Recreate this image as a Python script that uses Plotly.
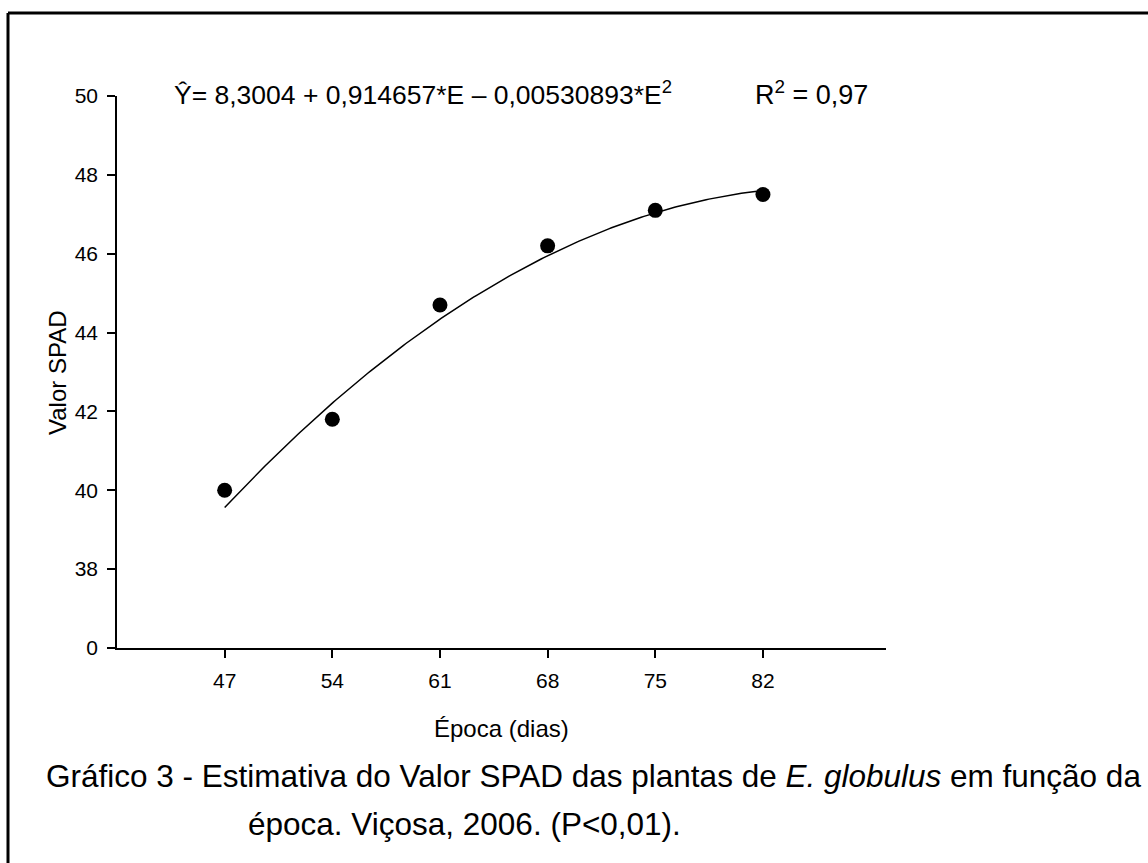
import numpy as np
import plotly.graph_objects as go

# Data
epoca = [47, 54, 61, 68, 75, 82]
spad = [40.0, 41.8, 44.7, 46.2, 47.1, 47.5]
coef = [8.3004, 0.914657, -0.00530893]   # Y = b0 + b1*E + b2*E^2
x_ticks = [47, 54, 61, 68, 75, 82]
y_tickvals = [36, 38, 40, 42, 44, 46, 48, 50]
y_ticktext = ["0", "38", "40", "42", "44", "46", "48", "50"]

W, H = 1148, 863
L, R, T, B = 117, 886, 96, 648
def px(x):
    return (x - L) / (R - L)
def py(y):
    return (B - y) / (B - T)

FONT = "Arial, Liberation Sans, sans-serif"

e_fit = np.linspace(min(epoca), max(epoca), 200)
y_fit = coef[0] + coef[1] * e_fit + coef[2] * e_fit ** 2

fig = go.Figure()
fig.add_trace(go.Scatter(x=e_fit, y=y_fit, mode="lines",
                         line=dict(color="black", width=1.5),
                         hoverinfo="skip", showlegend=False))
fig.add_trace(go.Scatter(x=epoca, y=spad, mode="markers",
                         marker=dict(color="black", size=15),
                         showlegend=False))

fig.update_layout(
    width=W, height=H,
    margin=dict(l=L, r=W - R, t=T, b=H - B, pad=0),
    paper_bgcolor="white", plot_bgcolor="white",
    font=dict(family=FONT, color="black", size=21),
    xaxis=dict(range=[40, 90], tickvals=x_ticks, showline=True, linecolor="black",
               linewidth=1.5, ticks="outside", ticklen=8, tickwidth=1.5,
               tickcolor="black", showgrid=False, zeroline=False,
               ticklabelstandoff=5, tickfont=dict(size=21)),
    yaxis=dict(range=[36, 50], tickvals=y_tickvals, ticktext=y_ticktext,
               showline=True, linecolor="black", linewidth=1.5, ticks="outside",
               ticklen=8, tickwidth=1.5, tickcolor="black", showgrid=False,
               zeroline=False, ticklabelstandoff=5, tickfont=dict(size=21)),
    shapes=[
        dict(type="line", xref="paper", yref="paper", x0=px(8), x1=px(8),
             y0=py(13), y1=py(H + 5), line=dict(color="black", width=3)),
        dict(type="line", xref="paper", yref="paper", x0=px(8), x1=px(W + 5),
             y0=py(13), y1=py(13), line=dict(color="black", width=3)),
    ],
    annotations=[
        dict(text="Ŷ= 8,3004 + 0,914657*E – 0,00530893*E<sup>2</sup>",
             xref="paper", yref="paper", x=px(172), y=py(93), xanchor="left",
             yanchor="middle", showarrow=False, font=dict(size=26.5)),
        dict(text="R<sup>2</sup> = 0,97",
             xref="paper", yref="paper", x=px(753), y=py(93), xanchor="left",
             yanchor="middle", showarrow=False, font=dict(size=27)),
        dict(text="Valor SPAD", textangle=-90,
             xref="paper", yref="paper", x=px(57), y=py(372), xanchor="center",
             yanchor="middle", showarrow=False, font=dict(size=24)),
        dict(text="Época (dias)",
             xref="paper", yref="paper", x=px(501), y=py(728), xanchor="center",
             yanchor="middle", showarrow=False, font=dict(size=24)),
        dict(text="Gráfico 3 - Estimativa do Valor SPAD das plantas de <i>E. globulus</i> em função da",
             xref="paper", yref="paper", x=px(44), y=py(776), xanchor="left",
             yanchor="middle", showarrow=False, font=dict(size=31.5)),
        dict(text="época. Viçosa, 2006. (P<0,01).",
             xref="paper", yref="paper", x=px(246), y=py(824), xanchor="left",
             yanchor="middle", showarrow=False, font=dict(size=31.5)),
    ],
)

fig.write_html("out.html")
